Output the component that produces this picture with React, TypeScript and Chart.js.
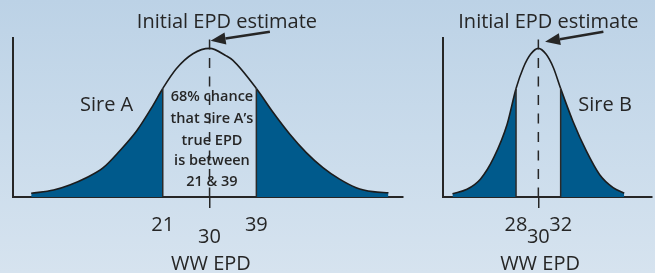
import React, { useEffect, useRef } from 'react';
import { Chart, registerables } from 'chart.js';

Chart.register(...registerables);

// ---------------- data ----------------
// relative height of the distribution curve (peak = 100)
const sireAEpd = [-4.3, 0, 3.1, 6.3, 9.5, 12.7, 16, 19.1, 21, 23.6, 26.8, 30, 33.2, 34.5, 39, 42.2, 45.4, 48.6, 51.8, 55, 58.2, 61.4, 64.4];
const sireAHeight = [2.5, 4.7, 8.1, 13, 19.6, 31, 44.6, 61.5, 73, 86.3, 96.4, 100, 95, 91.9, 73, 57, 42.4, 29.9, 19.8, 12, 6.3, 3.6, 2.9];
const sireACut = [21, 39];
const sireATicks = [21, 30, 39];

const sireBEpd = [22.3, 23.6, 24.8, 26, 27.2, 28, 28.65, 29.3, 30, 30.7, 31.35, 32, 33.1, 34.3, 35.5, 36.7, 37.7];
const sireBHeight = [2.2, 5.2, 12, 26.5, 49, 73, 87, 96, 100, 96, 87, 73, 51, 31, 15, 6.3, 2.5];
const sireBCut = [28, 32];
const sireBTicks = [28, 30, 32];

const initialEstimate = 30;
const estimateLineTop = 106;

const titleText = 'Initial EPD estimate';
const axisTitle = 'WW EPD';
const sireALabel = 'Sire A';
const sireBLabel = 'Sire B';
const centerNoteLines = ['68% chance', 'that Sire A\u2019s', 'true EPD', 'is between', '21 & 39'];

// ---------------- styles ----------------
const FONT = '"Open Sans", "Noto Sans", sans-serif';
const DARK = '#005a8c';
const INK = '#262626';
const H = 273;
const AXIS_BOTTOM = 197;

type TextItem = { text: string; x: number; y: number; font: string };
type PanelCfg = {
  width: number;
  left: number;
  pad: { left: number; right: number; top: number; bottom: number };
  xMin: number;
  xMax: number;
  epd: number[];
  height: number[];
  cut: number[];
  ticks: number[];
  texts: TextItem[];
  arrow: { from: [number, number]; to: [number, number] };
};

const bigFont = `20px ${FONT}`;
const noteFont = `600 14.5px ${FONT}`;
const noteY = [64.3, 49.8, 35.3, 21.2, 7.4];

const panelA: PanelCfg = {
  width: 420,
  left: 0,
  pad: { left: 13, right: 17, top: 38, bottom: 0 },
  xMin: -7.8,
  xMax: 67.2,
  epd: sireAEpd,
  height: sireAHeight,
  cut: sireACut,
  ticks: sireATicks,
  texts: [
    { text: titleText, x: 33.35, y: 113.7, font: bigFont },
    { text: sireALabel, x: 10.2, y: 57.9, font: bigFont },
    { text: axisTitle, x: 30.27, y: -49.1, font: bigFont },
    ...centerNoteLines.map((t, i) => ({ text: t, x: 30.46, y: noteY[i], font: noteFont })),
  ],
  arrow: { from: [41.6, 111.2], to: [30.2, 105.2] },
};

const panelB: PanelCfg = {
  width: 235,
  left: 420,
  pad: { left: 23, right: 3, top: 38, bottom: 0 },
  xMin: 21.45,
  xMax: 40.19,
  epd: sireBEpd,
  height: sireBHeight,
  cut: sireBCut,
  ticks: sireBTicks,
  texts: [
    { text: titleText, x: 30.9, y: 114, font: bigFont },
    { text: sireBLabel, x: 35.98, y: 58, font: bigFont },
    { text: axisTitle, x: 30.15, y: -49.1, font: bigFont },
  ],
  arrow: { from: [35.83, 111.2], to: [30.6, 104.5] },
};

function makeAnnotations(cfg: PanelCfg) {
  return {
    id: 'annotations',
    afterDraw(chart: any) {
      const { ctx } = chart;
      const xs = chart.scales.x;
      const ys = chart.scales.y;
      const px = (v: number) => xs.getPixelForValue(v);
      const py = (v: number) => ys.getPixelForValue(v);
      ctx.save();
      ctx.fillStyle = INK;
      ctx.textAlign = 'center';
      ctx.textBaseline = 'alphabetic';
      for (const t of cfg.texts) {
        ctx.font = t.font;
        ctx.fillText(t.text, px(t.x), py(t.y));
      }
      // arrow
      const x0 = px(cfg.arrow.from[0]);
      const y0 = py(cfg.arrow.from[1]);
      const x1 = px(cfg.arrow.to[0]);
      const y1 = py(cfg.arrow.to[1]);
      const ang = Math.atan2(y1 - y0, x1 - x0);
      const headLen = 15;
      const headW = 6;
      const bx = x1 - headLen * Math.cos(ang);
      const by = y1 - headLen * Math.sin(ang);
      ctx.strokeStyle = INK;
      ctx.lineWidth = 2.6;
      ctx.beginPath();
      ctx.moveTo(x0, y0);
      ctx.lineTo(bx, by);
      ctx.stroke();
      ctx.beginPath();
      ctx.moveTo(x1, y1);
      ctx.lineTo(bx + headW * Math.sin(ang), by - headW * Math.cos(ang));
      ctx.lineTo(bx - headW * Math.sin(ang), by + headW * Math.cos(ang));
      ctx.closePath();
      ctx.fill();
      ctx.restore();
    },
  };
}

function Panel({ cfg }: { cfg: PanelCfg }) {
  const ref = useRef<HTMLCanvasElement | null>(null);
  useEffect(() => {
    if (!ref.current) return;
    const heightAt = (v: number) => cfg.height[cfg.epd.indexOf(v)];
    const [lo, hi] = cfg.cut;
    const chart = new Chart(ref.current, {
      type: 'line',
      data: {
        datasets: [
          {
            data: [
              { x: initialEstimate, y: estimateLineTop },
              { x: initialEstimate, y: 0 },
            ],
            borderColor: INK,
            borderWidth: 1.5,
            borderDash: [10, 8.5],
            pointRadius: 0,
            fill: false,
          },
          ...cfg.cut.map((c) => ({
            data: [
              { x: c, y: 0 },
              { x: c, y: heightAt(c) },
            ],
            borderColor: '#2a2a2a',
            borderWidth: 1.5,
            pointRadius: 0,
            fill: false,
          })),
          {
            data: cfg.epd.map((x, i) => ({ x, y: cfg.height[i] })),
            borderColor: '#1c1c1c',
            borderWidth: 1.6,
            pointRadius: 0,
            fill: 'origin',
            backgroundColor: DARK,
            cubicInterpolationMode: 'monotone',
            segment: {
              backgroundColor: (c: any) =>
                c.p1.parsed.x <= lo + 1e-9 || c.p0.parsed.x >= hi - 1e-9 ? DARK : 'rgba(0,0,0,0)',
            },
          },
        ] as any,
      },
      options: {
        animation: false,
        responsive: false,
        maintainAspectRatio: false,
        events: [],
        layout: { padding: cfg.pad },
        plugins: { legend: { display: false }, tooltip: { enabled: false }, title: { display: false } },
        scales: {
          x: {
            type: 'linear',
            position: 'bottom',
            min: cfg.xMin,
            max: cfg.xMax,
            afterBuildTicks: (s: any) => {
              s.ticks = cfg.ticks.map((v) => ({ value: v }));
            },
            afterFit: (s: any) => {
              s.height = H - AXIS_BOTTOM;
            },
            ticks: {
              autoSkip: false,
              maxRotation: 0,
              minRotation: 0,
              padding: 5.5,
              color: INK,
              callback: (v: any) => String(v),
              font: (c: any) => ({
                family: FONT,
                size: 20,
                lineHeight: c.tick && c.tick.value === initialEstimate ? 2.35 : 1.2,
              }),
            },
            grid: {
              display: true,
              drawOnChartArea: false,
              drawTicks: true,
              tickLength: 11,
              lineWidth: 1.5,
              color: (c: any) => (c.tick && c.tick.value === initialEstimate ? INK : 'rgba(0,0,0,0)'),
            },
            border: { display: true, color: INK, width: 2 },
          },
          y: {
            type: 'linear',
            position: 'left',
            min: 0,
            max: 107,
            afterFit: (s: any) => {
              s.width = 0;
            },
            ticks: { display: false },
            grid: { display: false, drawTicks: false },
            border: { display: true, color: INK, width: 2 },
          },
        },
      } as any,
      plugins: [makeAnnotations(cfg)],
    });
    return () => chart.destroy();
  }, [cfg]);
  return (
    <canvas
      ref={ref}
      width={cfg.width}
      height={H}
      style={{ position: 'absolute', left: cfg.left, top: 0, width: cfg.width, height: H, display: 'block' }}
    />
  );
}

export default function App() {
  return (
    <div
      style={{
        position: 'fixed',
        left: 0,
        top: 0,
        width: 655,
        height: H,
        overflow: 'hidden',
        background: 'linear-gradient(to bottom, #bcd2e6 0%, #c9dbeb 50%, #d6e3ef 100%)',
      }}
    >
      <Panel cfg={panelA} />
      <Panel cfg={panelB} />
    </div>
  );
}
